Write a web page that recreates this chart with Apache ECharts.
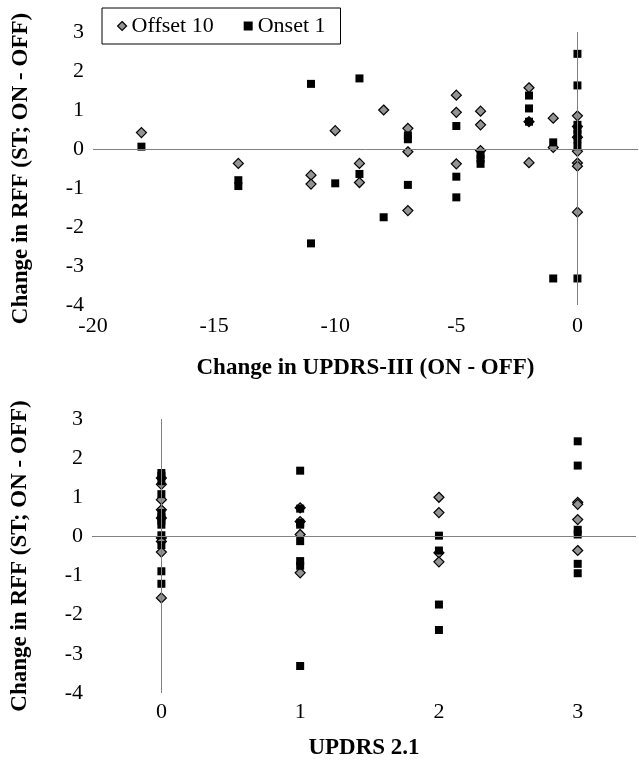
<!DOCTYPE html>
<html>
<head>
<meta charset="utf-8">
<script src="https://cdn.jsdelivr.net/npm/echarts@6/dist/echarts.min.js"></script>
<style>
html,body{margin:0;padding:0;background:#fff;}
#chart{width:639px;height:761px;}
</style>
</head>
<body>
<div id="chart"></div>
<script>
// ---- Data ----
var seriesNames = ['Offset 10', 'Onset 1'];

// Top panel: x = Change in UPDRS-III (ON - OFF), y = Change in RFF
var topOffset10 = [
  [-18, 0.42], [-14, -0.37], [-11, -0.67], [-11, -0.9], [-10, 0.47],
  [-9, -0.37], [-9, -0.86], [-8, 1.0], [-7, 0.53], [-7, -0.07], [-7, -1.58],
  [-5, 1.38], [-5, 0.94], [-5, -0.38], [-4, 0.97], [-4, 0.62], [-4, -0.04],
  [-2, 1.57], [-2, 0.7], [-2, -0.35], [-1, 0.79], [-1, 0.04],
  [0, 0.85], [0, 0.58], [0, 0.3], [0, -0.06], [0, -0.36], [0, -0.44], [0, -1.62]
];
var topOnset1 = [
  [-18, 0.06], [-14, -0.8], [-14, -0.95], [-11, 1.67], [-11, -2.42], [-10, -0.88],
  [-9, 1.81], [-9, -0.64], [-8, -1.75], [-7, 0.35], [-7, 0.25], [-7, -0.92],
  [-5, 0.59], [-5, -0.71], [-5, -1.24], [-4, -0.15], [-4, -0.25], [-4, -0.38],
  [-2, 1.37], [-2, 1.04], [-2, 0.7], [-1, 0.17], [-1, -3.32],
  [0, 2.44], [0, 1.63], [0, 0.62], [0, 0.5], [0, 0.38], [0, 0.25], [0, 0.07], [0, -3.32]
];

// Bottom panel: x = UPDRS 2.1, y = Change in RFF
var bottomOffset10 = [
  [0, 1.49], [0, 1.33], [0, 0.94], [0, 0.68], [0, 0.47], [0, -0.04], [0, -0.13], [0, -0.4], [0, -1.57],
  [1, 0.73], [1, 0.38], [1, 0.05], [1, -0.93],
  [2, 1.0], [2, 0.61], [2, -0.42], [2, -0.65],
  [3, 0.87], [3, 0.82], [3, 0.43], [3, -0.36]
];
var bottomOnset1 = [
  [0, 1.62], [0, 1.55], [0, 1.41], [0, 1.08], [0, 0.6], [0, 0.5], [0, 0.4], [0, 0.3], [0, 0.03], [0, -0.22], [0, -0.89], [0, -1.21],
  [1, 1.68], [1, 0.71], [1, 0.35], [1, 0.3], [1, -0.12], [1, -0.63], [1, -0.75], [1, -3.31],
  [2, 0.02], [2, -0.36], [2, -1.74], [2, -2.39],
  [3, 2.43], [3, 1.81], [3, 0.17], [3, 0.05], [3, -0.7], [3, -0.94]
];

var yTitle = 'Change in RFF (ST; ON - OFF)';
var topXTitle = 'Change in UPDRS-III (ON - OFF)';
var bottomXTitle = 'UPDRS 2.1';

// ---- Chart ----
var FONT = '"Liberation Serif", "Times New Roman", serif';
var chart = echarts.init(document.getElementById('chart'), null, {renderer: 'canvas'});

var labelStyle = {color: '#000', fontSize: 22, fontFamily: FONT};
var nameStyle = {color: '#000', fontSize: 23, fontWeight: 'bold', fontFamily: FONT};

function yAxisCfg(gi) {
  return {
    type: 'value', gridIndex: gi, min: -4, max: 3, interval: 1,
    axisLine: {show: false}, axisTick: {show: false}, splitLine: {show: false},
    axisLabel: Object.assign({margin: 9}, labelStyle),
    name: yTitle, nameLocation: 'middle', nameRotate: 90, nameGap: 60,
    nameTextStyle: nameStyle
  };
}

var diamondStyle = {color: '#939393', borderColor: '#000', borderWidth: 1.2, opacity: 1};
var squareStyle = {color: '#000', opacity: 1};
var zeroLines = {
  silent: true, symbol: 'none', label: {show: false},
  lineStyle: {color: '#808080', width: 1, type: 'solid'},
  emphasis: {disabled: true},
  data: [{xAxis: 0}, {yAxis: 0}]
};

var option = {
  animation: false,
  backgroundColor: '#fff',
  textStyle: {fontFamily: FONT},
  legend: {
    left: 102, top: 8,
    padding: [7, 15, 7, 15],
    itemGap: 30, itemWidth: 9, itemHeight: 9,
    borderColor: '#000', borderWidth: 1,
    textStyle: {color: '#000', fontSize: 22, fontFamily: FONT},
    data: [
      {name: seriesNames[0], icon: 'diamond', itemStyle: diamondStyle},
      {name: seriesNames[1], icon: 'rect', itemStyle: squareStyle}
    ]
  },
  grid: [
    {left: 93, top: 32, width: 545, height: 273},
    {left: 92, top: 419, width: 546, height: 275}
  ],
  xAxis: [
    {
      type: 'value', gridIndex: 0, min: -20, max: 2.5, interval: 5,
      axisLine: {show: false}, axisTick: {show: false}, splitLine: {show: false},
      axisLabel: Object.assign({margin: 10, showMaxLabel: false,
        formatter: function (v) { return v > 0 ? '' : String(v); }}, labelStyle),
      name: topXTitle, nameLocation: 'middle', nameGap: 52,
      nameTextStyle: nameStyle
    },
    {
      type: 'value', gridIndex: 1, min: -0.5, max: 3.42, interval: 0.5,
      axisLine: {show: false}, axisTick: {show: false}, splitLine: {show: false},
      axisLabel: Object.assign({margin: 8,
        formatter: function (v) { return (v >= 0 && Math.abs(v - Math.round(v)) < 1e-9) ? String(Math.round(v)) : ''; }}, labelStyle),
      name: bottomXTitle, nameLocation: 'middle', nameGap: 44,
      nameTextStyle: nameStyle
    }
  ],
  yAxis: [yAxisCfg(0), yAxisCfg(1)],
  series: [
    {name: seriesNames[0], type: 'scatter', xAxisIndex: 0, yAxisIndex: 0,
     symbol: 'diamond', symbolSize: 10, itemStyle: diamondStyle, data: topOffset10,
     markLine: zeroLines, z: 2},
    {name: seriesNames[1], type: 'scatter', xAxisIndex: 0, yAxisIndex: 0,
     symbol: 'rect', symbolSize: 8, itemStyle: squareStyle, data: topOnset1, z: 3},
    {name: seriesNames[0], type: 'scatter', xAxisIndex: 1, yAxisIndex: 1,
     symbol: 'diamond', symbolSize: 10, itemStyle: diamondStyle, data: bottomOffset10,
     markLine: zeroLines, z: 2},
    {name: seriesNames[1], type: 'scatter', xAxisIndex: 1, yAxisIndex: 1,
     symbol: 'rect', symbolSize: 8, itemStyle: squareStyle, data: bottomOnset1, z: 3}
  ]
};
chart.setOption(option);
</script>
</body>
</html>
